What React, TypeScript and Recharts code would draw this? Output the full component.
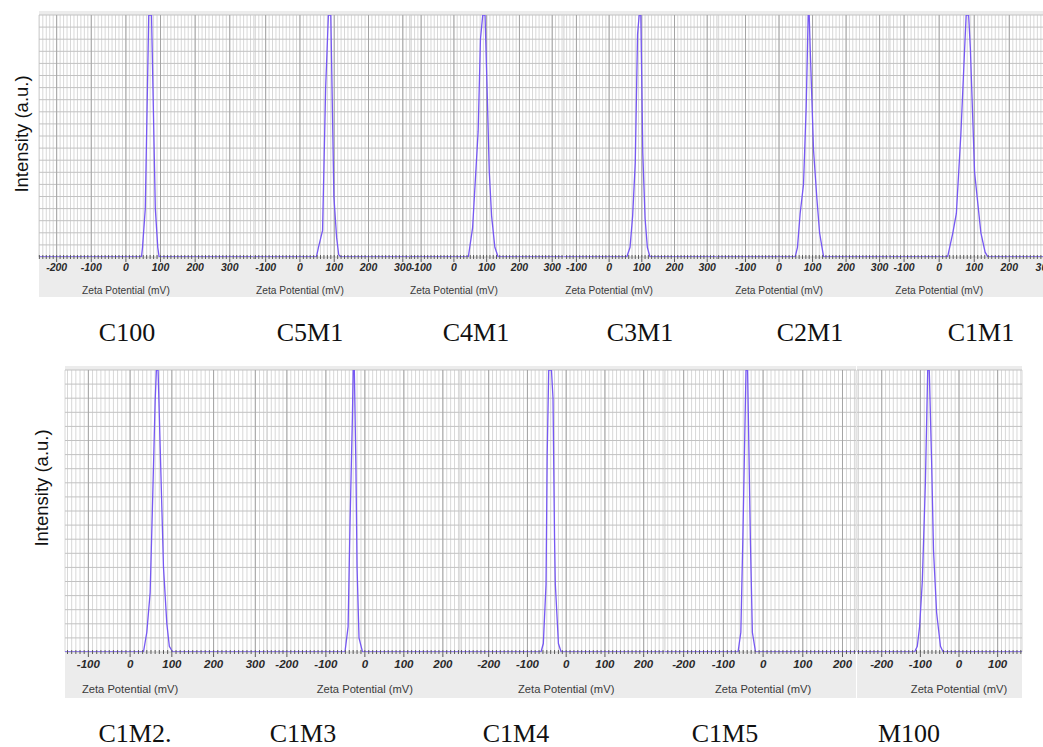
import { LineChart, Line, XAxis, YAxis, CartesianGrid, ReferenceLine } from 'recharts';

// sample names, in panel order
const samples = ['C100', 'C5M1', 'C4M1', 'C3M1', 'C2M1', 'C1M1', 'C1M2.', 'C1M3', 'C1M4', 'C1M5', 'M100'];

// zeta potential (mV), relative intensity (% of peak)
const c100 = [[-251, 0], [45, 0], [48, 4], [56, 20], [66, 100], [74, 100], [85, 20], [92, 4], [96, 0], [370, 0]];
const c5m1 = [[-134, 0], [48, 0], [54, 4], [66, 11], [75, 70], [83, 100], [90, 100], [99, 25], [107, 8], [113, 1], [119, 0], [321, 0]];
const c4m1 = [[-134, 0], [44, 0], [57, 12], [74, 52], [81, 90], [88, 100], [95, 100], [102, 66], [108, 35], [115, 17], [125, 4], [135, 0], [336, 0]];
const c3m1 = [[-138, 0], [54, 0], [64, 4], [72, 17], [80, 39], [87, 92], [92, 100], [97, 100], [103, 43], [110, 16], [117, 4], [125, 0], [330, 0]];
const c2m1 = [[-185, 0], [48, 0], [55, 4], [63, 18], [73, 30], [81, 62], [87, 100], [90, 100], [93, 86], [103, 44], [113, 24], [121, 10], [133, 0], [328, 0]];
const c1m1 = [[-143, 0], [24, 0], [39, 10], [49, 18], [62, 51], [72, 84], [77, 100], [84, 100], [89, 86], [101, 35], [111, 21], [119, 10], [131, 2], [139, 0], [316, 0]];
const c1m2 = [[-156, 0], [32, 0], [40, 7], [48, 21], [54, 54], [60, 89], [63, 100], [67, 100], [72, 73], [80, 30], [88, 10], [94, 2], [102, 0], [328, 0]];
const c1m3 = [[-251, 0], [-51, 0], [-43, 9], [-38, 46], [-32, 83], [-30, 100], [-27, 100], [-23, 66], [-20, 30], [-15, 5], [-6, 0], [244, 0]];
const c1m4 = [[-274, 0], [-65, 0], [-59, 3], [-52, 24], [-49, 70], [-45, 100], [-38, 100], [-34, 90], [-30, 40], [-28, 24], [-20, 3], [-13, 0], [255, 0]];
const c1m5 = [[-247, 0], [-63, 0], [-56, 7], [-51, 40], [-43, 100], [-39, 100], [-32, 40], [-27, 7], [-19, 0], [234, 0]];
const m100 = [[-264, 0], [-115, 0], [-108, 2], [-102, 9], [-95, 25], [-87, 60], [-81, 100], [-77, 100], [-71, 68], [-66, 36], [-58, 14], [-48, 2], [-41, 0], [163, 0]];

const series = [c100, c5m1, c4m1, c3m1, c2m1, c1m1, c1m2, c1m3, c1m4, c1m5, m100];

// visible x range of each panel (mV)
const xDomains = [
  [-251, 370], [-134, 321], [-134, 336], [-138, 330], [-185, 328], [-143, 316],
  [-156, 328], [-251, 244], [-274, 255], [-247, 234], [-264, 163],
];

// labelled ticks of each panel
const tickLabels = [
  [-200, -100, 0, 100, 200, 300],
  [-100, 0, 100, 200, 300],
  [-100, 0, 100, 200, 300],
  [-100, 0, 100, 200, 300],
  [-100, 0, 100, 200, 300],
  [-100, 0, 100, 200, 300],
  [-100, 0, 100, 200, 300],
  [-200, -100, 0, 100, 200],
  [-200, -100, 0, 100, 200],
  [-200, -100, 0, 100, 200],
  [-200, -100, 0, 100],
];

const intensityTicks = [0, 5, 10, 15, 20, 25, 30, 35, 40, 45, 50, 55, 60, 65, 70, 75, 80, 85, 90, 95, 100];

// page layout
const rows = [
  { top: 11, plotHeight: 242, axisHeight: 40, labelY: 333, tickDy: 14, titleDy: 36.6, tickFont: 10.5, titleFont: 10.2, yLabelX: 22, yLabelY: 134 },
  { top: 366, plotHeight: 282, axisHeight: 46, labelY: 733.5, tickDy: 16, titleDy: 41, tickFont: 11.5, titleFont: 11.2, yLabelX: 42, yLabelY: 488 },
];

const panels = [
  { row: 0, left: 39, right: 254, labelX: 127 },
  { row: 0, left: 254, right: 410, labelX: 310 },
  { row: 0, left: 410, right: 564, labelX: 476 },
  { row: 0, left: 564, right: 717, labelX: 640 },
  { row: 0, left: 717, right: 889, labelX: 810 },
  { row: 0, left: 889, right: 1050, labelX: 981 },
  { row: 1, left: 65, right: 267, labelX: 135 },
  { row: 1, left: 267, right: 460, labelX: 303 },
  { row: 1, left: 460, right: 665, labelX: 516 },
  { row: 1, left: 665, right: 856, labelX: 725 },
  { row: 1, left: 857, right: 1022, labelX: 909 },
];

const LINE_COLOR = '#7658f2';
const SANS = '"Liberation Sans", Arial, sans-serif';
const SERIF = '"Liberation Serif", "Times New Roman", serif';

function minorTicks([lo, hi]: number[]) {
  const out: number[] = [];
  for (let v = Math.ceil(lo / 10) * 10; v <= hi; v += 10) out.push(v);
  return out;
}

function makeTick(labels: number[], row: (typeof rows)[number]) {
  return (props: any) => {
    const { x, y, payload } = props;
    const v = payload.value as number;
    const major = v % 100 === 0;
    return (
      <g>
        <line x1={x} x2={x} y1={y - 2} y2={y + (major ? 5 : 2)} stroke="#5a5a5a" strokeWidth={1} />
        {labels.includes(v) && (
          <text x={x} y={y + row.tickDy} textAnchor="middle" fontFamily={SANS} fontSize={row.tickFont}
            fontWeight="bold" fontStyle="italic" fill="#2a2a2a">
            {v}
          </text>
        )}
        {v === 0 && (
          <text x={x} y={y + row.titleDy} textAnchor="middle" fontFamily={SANS} fontSize={row.titleFont} fill="#3a3a3a">
            Zeta Potential (mV)
          </text>
        )}
      </g>
    );
  };
}

function panelBox(index: number) {
  const p = panels[index];
  const row = rows[p.row];
  return { left: p.left, top: row.top, width: p.right - p.left, height: 4 + row.plotHeight + row.axisHeight };
}

function Panel({ index }: { index: number }) {
  const row = rows[panels[index].row];
  const box = panelBox(index);
  const data = series[index].map(([mv, v]) => ({ mv, v }));
  const domain = xDomains[index];
  return (
    <div style={{ position: 'absolute', ...box }}>
      <LineChart width={box.width} height={box.height} data={data} margin={{ top: 4, right: 0, bottom: 0, left: 0 }}>
        <CartesianGrid horizontal={false} stroke="#d8d8d8" fill="#ffffff" />
        <CartesianGrid vertical={false} stroke="#c2c2c2" horizontalValues={intensityTicks} />
        {tickLabels[index].map((t) => (
          <ReferenceLine key={t} x={t} stroke="#a4a4a4" />
        ))}
        <XAxis
          dataKey="mv"
          type="number"
          domain={domain}
          allowDataOverflow
          ticks={minorTicks(domain)}
          interval={0}
          axisLine={false}
          tickLine={false}
          tickSize={0}
          tickMargin={0}
          height={row.axisHeight}
          tick={makeTick(tickLabels[index], row)}
        />
        <YAxis hide domain={[0, 100]} ticks={intensityTicks} interval={0} allowDataOverflow />
        <Line type="linear" dataKey="v" stroke={LINE_COLOR} strokeWidth={1.3} dot={false} isAnimationActive={false} />
      </LineChart>
    </div>
  );
}

export default function App() {
  return (
    <div style={{ position: 'absolute', left: 0, top: 0, width: 1043, height: 747, background: '#fff', overflow: 'hidden' }}>
      <style>{'.recharts-surface { overflow: visible; }'}</style>
      {panels.map((_, i) => (
        <div key={'bg' + i} style={{ position: 'absolute', ...panelBox(i), background: '#ececec' }} />
      ))}
      {panels.map((_, i) => (
        <Panel key={samples[i]} index={i} />
      ))}
      {rows.map((r, i) => (
        <div
          key={i}
          style={{
            position: 'absolute', left: r.yLabelX, top: r.yLabelY, transform: 'translate(-50%, -50%) rotate(-90deg)',
            fontFamily: SANS, fontSize: 18.5, lineHeight: 1, color: '#111', whiteSpace: 'nowrap',
          }}
        >
          Intensity (a.u.)
        </div>
      ))}
      {panels.map((p, i) => (
        <div
          key={'l' + i}
          style={{
            position: 'absolute', left: p.labelX, top: rows[p.row].labelY, transform: 'translate(-50%, -50%)',
            fontFamily: SERIF, fontSize: 26, lineHeight: 1, color: '#111', whiteSpace: 'nowrap',
          }}
        >
          {samples[i]}
        </div>
      ))}
    </div>
  );
}
